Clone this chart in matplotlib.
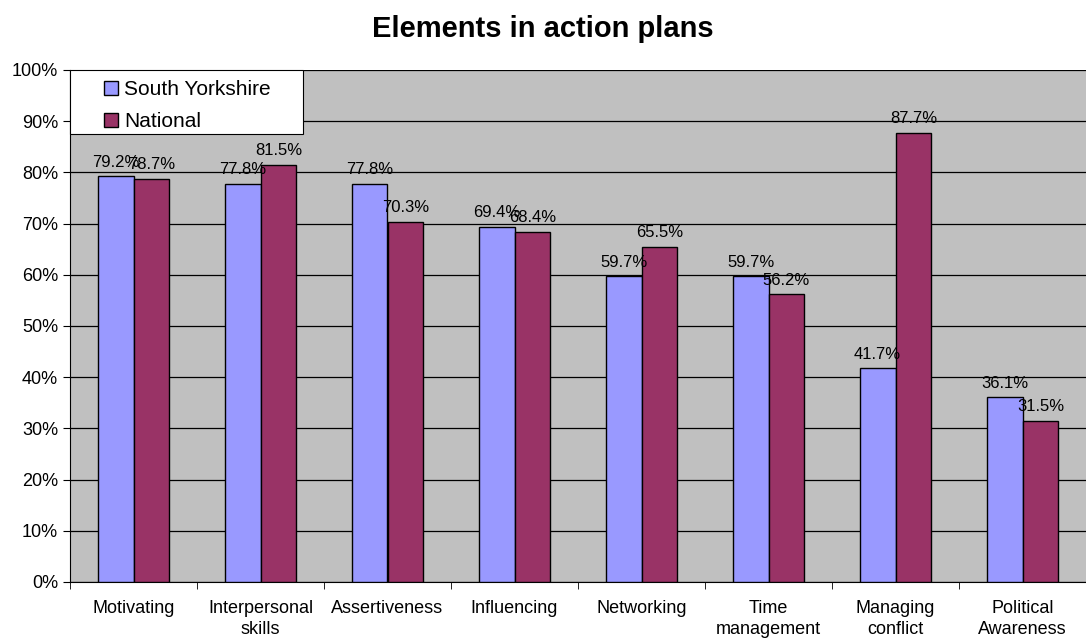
import matplotlib
matplotlib.use("Agg")
import matplotlib.pyplot as plt
import numpy as np
from matplotlib.patches import Rectangle
from matplotlib.ticker import FixedLocator, PercentFormatter

plt.rcParams['font.family'] = ['Liberation Sans', 'DejaVu Sans']

categories = ["Motivating", "Interpersonal\nskills", "Assertiveness", "Influencing",
              "Networking", "Time\nmanagement", "Managing\nconflict", "Political\nAwareness"]
south_yorkshire = [79.2, 77.8, 77.8, 69.4, 59.7, 59.7, 41.7, 36.1]
national = [78.7, 81.5, 70.3, 68.4, 65.5, 56.2, 87.7, 31.5]
series_names = ["South Yorkshire", "National"]
y_ticks = list(range(0, 101, 10))

W, H = 1086, 641
fig = plt.figure(figsize=(W / 100, H / 100), dpi=100)
ax_px = (70, 59, 1016, 512)  # left, bottom, width, height in pixels
ax = fig.add_axes([ax_px[0] / W, ax_px[1] / H, ax_px[2] / W, ax_px[3] / H])
ax.set_facecolor("#C0C0C0")

x = np.arange(len(categories))
w = 0.283
b1 = ax.bar(x - w / 2, south_yorkshire, w, color="#9999FF", edgecolor="black",
            linewidth=1.0, label=series_names[0], zorder=3)
b2 = ax.bar(x + w / 2, national, w, color="#993366", edgecolor="black",
            linewidth=1.0, label=series_names[1], zorder=3)

for bars, vals in ((b1, south_yorkshire), (b2, national)):
    for rect, v in zip(bars, vals):
        ax.text(rect.get_x() + rect.get_width() / 2, v + 1.3, f"{v:.1f}%",
                ha="center", va="bottom", fontsize=12, zorder=4)

ax.set_xlim(-0.5, len(categories) - 0.5)
ax.set_ylim(0, 100)
ax.yaxis.set_major_locator(FixedLocator(y_ticks))
ax.yaxis.set_major_formatter(PercentFormatter(decimals=0))
ax.grid(axis="y", color="black", linewidth=0.9, zorder=1)

ax.set_xticks(x)
ax.set_xticklabels(categories, fontsize=13, linespacing=1.3)
ax.tick_params(axis="x", length=0, pad=13)
ax.set_xticks(np.arange(len(categories) + 1) - 0.5, minor=True)
ax.tick_params(axis="x", which="minor", length=5, color="black")
ax.tick_params(axis="y", labelsize=13, length=5, color="black")

for s in ("top", "right"):
    ax.spines[s].set_visible(False)
ax.spines["left"].set_color("black")
ax.spines["bottom"].set_color("black")

fig.text(0.5, 1 - 29 / H, "Elements in action plans", ha="center", va="center",
         fontsize=21, fontweight="bold")

# legend: white boxed panel in the top-left corner of the plot area
box_w, box_h = 233 / ax_px[2], 64 / ax_px[3]
ax.add_patch(Rectangle((0, 1 - box_h), box_w, box_h, transform=ax.transAxes,
                       facecolor="white", edgecolor="black", linewidth=0.8,
                       zorder=5, clip_on=False))
leg = ax.legend(loc="upper left", bbox_to_anchor=(34 / ax_px[2], 1 - 10 / ax_px[3]),
                bbox_transform=ax.transAxes, fontsize=15, frameon=False,
                handlelength=0.65, handleheight=0.65, handletextpad=0.3,
                borderpad=0, labelspacing=0.64, borderaxespad=0)
leg.set_zorder(6)

fig.savefig("out.png", dpi=100)
